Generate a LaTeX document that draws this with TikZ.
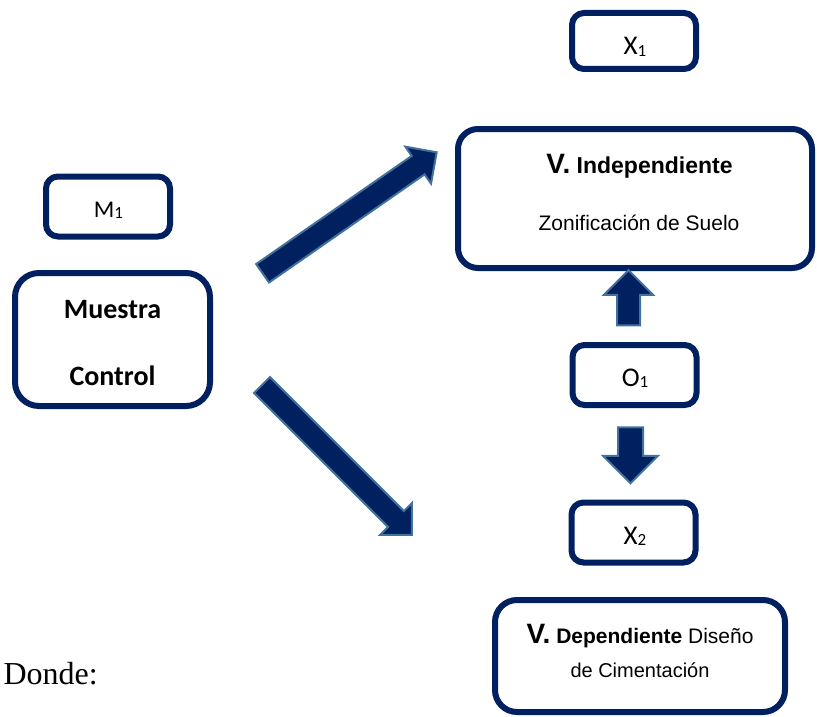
\documentclass[tikz,border=0pt]{standalone}
\usepackage{fontspec}
\newfontfamily\calibrifont{Carlito}
\newfontfamily\arialfont{Liberation Sans}
\newfontfamily\timesfont{Liberation Serif}
\usetikzlibrary{shapes.arrows}
\definecolor{navy}{HTML}{002060}
\definecolor{steel}{HTML}{41719C}
\newcommand{\subidx}[2]{#1\raisebox{-1.5pt}{\fontsize{17}{17}\selectfont #2}}

\begin{document}
\begin{tikzpicture}[x=1pt,y=-1pt,
box/.style={draw=navy,line width=6pt,rounded corners=#1},
small box/.style={box=12pt,minimum width=124pt,minimum height=60pt},
fat arrow/.style={single arrow,draw=steel,fill=navy,line width=2pt,inner xsep=0pt,
  single arrow head extend=#1},
sub label/.style={anchor=base,font=\calibrifont\fontsize{27}{27}\selectfont},
big label/.style={anchor=base,font=\calibrifont\bfseries\fontsize{28}{28}\selectfont},
var label/.style={anchor=base,font=\arialfont\fontsize{21}{21}\selectfont}]

\useasboundingbox (0,0) rectangle (817,717);

% boxes
\node[small box,minimum height=56pt] (x1) at (634,41) {};
\node[small box] (m1) at (108,206.5) {};
\node[box=24pt,minimum width=195pt,minimum height=133pt] (muestra) at (112.5,339.5) {};
\node[box=20pt,minimum width=354pt,minimum height=139pt] (indep) at (635,198.5) {};
\node[small box] (o1) at (634.5,375) {};
\node[small box] (x2) at (633.5,532.5) {};
\node[box=22pt,minimum width=290pt,minimum height=112pt] (dep) at (640,656) {};

% labels
\node[sub label] (x1 text) at (635,55) {\subidx{X}{1}};
\node[sub label,font=\calibrifont\fontsize{24}{24}\selectfont] (m1 text) at (108.5,217) {\subidx{M}{1}};
\node[sub label] (o1 text) at (635,386) {\subidx{O}{1}};
\node[sub label] (x2 text) at (635,544) {\subidx{X}{2}};
\node[big label] (muestra text) at (112.5,318) {Muestra};
\node[big label] (control text) at (112.5,385) {Control};
\node[var label] (indep title) at (639.5,173)
  {{\bfseries\fontsize{28}{28}\selectfont V.}\fontsize{23}{23}\selectfont\bfseries{} Independiente};
\node[var label] (indep text) at (639,230) {Zonificación de Suelo};
\node[var label] (dep title) at (640,643)
  {{\bfseries\fontsize{28}{28}\selectfont V.} \textbf{Dependiente} Diseño};
\node[var label,font=\arialfont\fontsize{20}{20}\selectfont] (dep text) at (640,677) {de Cimentación};
\node[anchor=base west,font=\timesfont\fontsize{32}{32}\selectfont] (donde) at (0,684) {Donde:};

% arrows
\node[fat arrow=11.25pt,inner ysep=10.25pt,minimum height=212pt,rotate=34.8] (to indep) at (345,216) {};
\node[fat arrow=11.25pt,inner ysep=10.25pt,minimum height=212pt,rotate=-45] (to dep) at (333,456) {};
\node[fat arrow=13pt,inner ysep=10.5pt,minimum height=55pt,rotate=90] (o1 up) at (628.5,303.5) {};
\node[fat arrow=15pt,inner ysep=11.5pt,minimum height=56pt,rotate=-90] (o1 down) at (630.5,449) {};
\end{tikzpicture}
\end{document}
